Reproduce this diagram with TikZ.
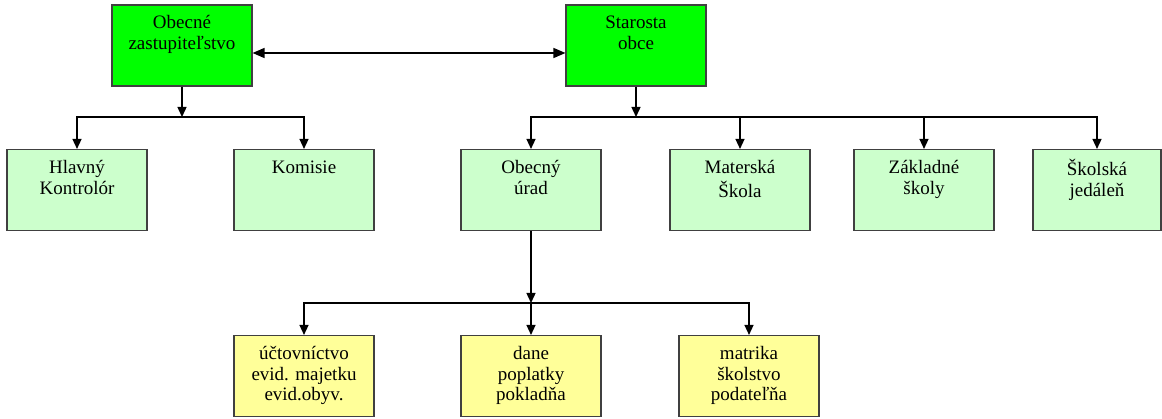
\documentclass[tikz,border=0pt]{standalone}
\usepackage{fontspec}
\setmainfont{Liberation Serif}
\usetikzlibrary{arrows.meta}
\usetikzlibrary{positioning}

\definecolor{topgreen}{HTML}{00FF00}
\definecolor{palegreen}{HTML}{CCFFCC}
\definecolor{paleyellow}{HTML}{FFFF99}

% box text, set from the top of the box
\newcommand{\boxtext}[2][140pt]{\parbox[c][81pt][t]{#1}{\centering\vspace*{9.5pt}\strut#2}}

\begin{document}
\begin{tikzpicture}[x=1pt, y=-1pt,
        orgbox/.style={draw=black!75, line width=1.1pt, inner sep=0pt,
            font=\fontsize{19}{20.7}\selectfont},
        link/.style={line width=1.4pt, -{Triangle[length=10pt,width=9pt]}},
        twolink/.style={line width=1.4pt, {Triangle[length=12pt,width=10pt]}-{Triangle[length=12pt,width=10pt]}}]
        \useasboundingbox (0,0) rectangle (1162,419);

        % top level
        \node[orgbox, fill=topgreen] (zast) at (182,45.5) {\boxtext{Obecné\\zastupiteľstvo}};
        \node[orgbox, fill=topgreen] (star) at (636,45.5) {\boxtext{Starosta\\obce}};

        \draw[twolink] ([yshift=-7.5pt]zast.east) -- ([yshift=-7.5pt]star.west);

        % second level
        \node[orgbox, fill=palegreen] (hlav) at (77,190) {\boxtext{Hlavný\\Kontrolór}};
        \node[orgbox, fill=palegreen] (komi) at (304,190) {\boxtext{Komisie}};
        \node[orgbox, fill=palegreen] (urad) at (531,190) {\boxtext{Obecný\\úrad}};
        \node[orgbox, fill=palegreen] (mats) at (740,190) {\boxtext{Materská\\Škola}};
        \node[orgbox, fill=palegreen] (zakl) at (924,190) {\boxtext{Základné\\školy}};
        \node[orgbox, fill=palegreen] (jedl) at (1097,190) {\boxtext[128pt]{Školská\\jedáleň}};

        % third level
        \node[orgbox, fill=paleyellow] (ucto) at (304,376) {\boxtext{účtovníctvo\\evid. majetku\\evid.obyv.}};
        \node[orgbox, fill=paleyellow] (dane) at (531,376) {\boxtext{dane\\poplatky\\pokladňa}};
        \node[orgbox, fill=paleyellow] (matr) at (749,376) {\boxtext{matrika\\školstvo\\podateľňa}};

        % branching points
        \coordinate (zbus) at (182,117);
        \coordinate (sbus) at (636,117);
        \coordinate (ubus) at (531,303);

        \draw[link] (zast.south) -- (zbus);
        \foreach \n in {hlav,komi} {
            \draw[link] (zbus) -| (\n.north);
        }

        \draw[link] (star.south) -- (sbus);
        \foreach \n in {urad,mats,zakl,jedl} {
            \draw[link] (sbus) -| (\n.north);
        }

        \draw[link] (urad.south) -- (ubus);
        \foreach \n in {ucto,dane,matr} {
            \draw[link] (ubus) -| (\n.north);
        }

    \end{tikzpicture}
\end{document}
